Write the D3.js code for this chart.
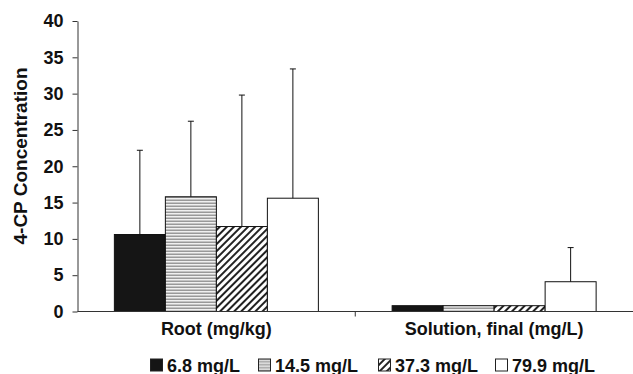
<!DOCTYPE html>
<html>
<head>
<meta charset="utf-8">
<script src="https://cdn.jsdelivr.net/npm/d3@7"></script>
<style>
body { margin: 0; background: #fff; }
text { font-family: "Liberation Sans", Arial, sans-serif; font-weight: bold; fill: #111; }
</style>
</head>
<body>
<svg id="chart" width="633" height="374"></svg>
<script>
// data
const categories = ["Root (mg/kg)", "Solution, final (mg/L)"];
const series = ["6.8 mg/L", "14.5 mg/L", "37.3 mg/L", "79.9 mg/L"];
const means = [
    [10.6, 15.8, 11.7, 15.6],
    [0.8, 0.8, 0.8, 4.1]
];
const errors = [
    [11.6, 10.4, 18.1, 17.8],
    [0, 0, 0, 4.7]
];
const yTicks = [0, 5, 10, 15, 20, 25, 30, 35, 40];

const svg = d3.select("#chart");
const margin = { left: 77.5, right: 0, top: 21, bottom: 62 };
const width = 633, height = 374;
const fs = "18px";

// patterns for the bars
const defs = svg.append("defs");
const hp = defs.append("pattern").attr("id", "horiz")
    .attr("patternUnits", "userSpaceOnUse").attr("width", 6).attr("height", 3);
hp.append("rect").attr("width", 6).attr("height", 3).attr("fill", "#f0f0f0");
hp.append("rect").attr("y", 1.5).attr("width", 6).attr("height", 1.5).attr("fill", "#999");

const dp = defs.append("pattern").attr("id", "diag")
    .attr("patternUnits", "userSpaceOnUse").attr("width", 5).attr("height", 5)
    .attr("patternTransform", "rotate(45)");
dp.append("rect").attr("width", 5).attr("height", 5).attr("fill", "#fff");
dp.append("rect").attr("width", 2).attr("height", 5).attr("fill", "#222");

const fills = ["#151515", "url(#horiz)", "url(#diag)", "#fff"];

const y = d3.scaleLinear().domain([0, 40]).range([311.5, margin.top]);
const x0 = d3.scaleBand().domain(categories).range([margin.left, width]).paddingInner(0).paddingOuter(0);
const x1 = d3.scaleBand().domain(series).range([0, x0.bandwidth()]).paddingInner(0).paddingOuter(0.723);

// y axis
const yAxis = svg.append("g")
    .attr("transform", `translate(${margin.left},0)`)
    .call(d3.axisLeft(y).tickValues(yTicks).tickSize(5).tickPadding(9).tickSizeOuter(0));
yAxis.select(".domain").attr("stroke", "#333");
yAxis.selectAll(".tick line").attr("stroke", "#333");
yAxis.selectAll("text").style("font-size", fs).style("font-family", "'Liberation Sans', Arial, sans-serif")
    .style("font-weight", "bold").attr("fill", "#111");

// bars
const groups = svg.append("g").selectAll("g")
    .data(categories).join("g")
    .attr("transform", d => `translate(${x0(d)},0)`);

groups.selectAll("rect")
    .data((c, ci) => series.map((s, si) => ({ s, si, v: means[ci][si], e: errors[ci][si] })))
    .join("rect")
    .attr("x", d => x1(d.s))
    .attr("y", d => y(d.v))
    .attr("width", x1.bandwidth())
    .attr("height", d => y(0) - y(d.v))
    .attr("fill", d => fills[d.si])
    .attr("stroke", "#111")
    .attr("stroke-width", 1);

// error bars (upper only)
const eb = groups.selectAll("g.err")
    .data((c, ci) => series.map((s, si) => ({ s, v: means[ci][si], e: errors[ci][si] })).filter(d => d.e > 0))
    .join("g").attr("class", "err");
eb.append("line")
    .attr("x1", d => x1(d.s) + x1.bandwidth() / 2)
    .attr("x2", d => x1(d.s) + x1.bandwidth() / 2)
    .attr("y1", d => y(d.v))
    .attr("y2", d => y(d.v + d.e))
    .attr("stroke", "#111");
eb.append("line")
    .attr("x1", d => x1(d.s) + x1.bandwidth() / 2 - 3)
    .attr("x2", d => x1(d.s) + x1.bandwidth() / 2 + 3)
    .attr("y1", d => y(d.v + d.e))
    .attr("y2", d => y(d.v + d.e))
    .attr("stroke", "#111");

// x axis
const xAxis = svg.append("g")
    .attr("transform", `translate(0,${y(0)})`);
xAxis.append("line").attr("x1", margin.left).attr("x2", width).attr("stroke", "#333");
xAxis.append("line").attr("x1", x0(categories[1])).attr("x2", x0(categories[1]))
    .attr("y1", 0).attr("y2", 5).attr("stroke", "#333");
xAxis.selectAll("text.cat").data(categories).join("text").attr("class", "cat")
    .attr("x", d => x0(d) + x0.bandwidth() / 2)
    .attr("y", 23.5)
    .attr("text-anchor", "middle")
    .style("font-size", fs)
    .text(d => d);

// y label
svg.append("text")
    .attr("transform", "translate(27,156) rotate(-90)")
    .attr("text-anchor", "middle")
    .style("font-size", "19px")
    .text("4-CP Concentration");

// legend
const legendX = [150, 258, 378, 495];
const legend = svg.append("g").attr("transform", "translate(0,371.5)");
series.forEach((s, i) => {
    const g = legend.append("g").attr("transform", `translate(${legendX[i]},0)`);
    g.append("rect").attr("x", 0.5).attr("y", -12.5).attr("width", 12).attr("height", 12)
        .attr("fill", fills[i]).attr("stroke", "#222");
    g.append("text").attr("x", 17).attr("y", 0).style("font-size", fs).text(s);
});
</script>
</body>
</html>
